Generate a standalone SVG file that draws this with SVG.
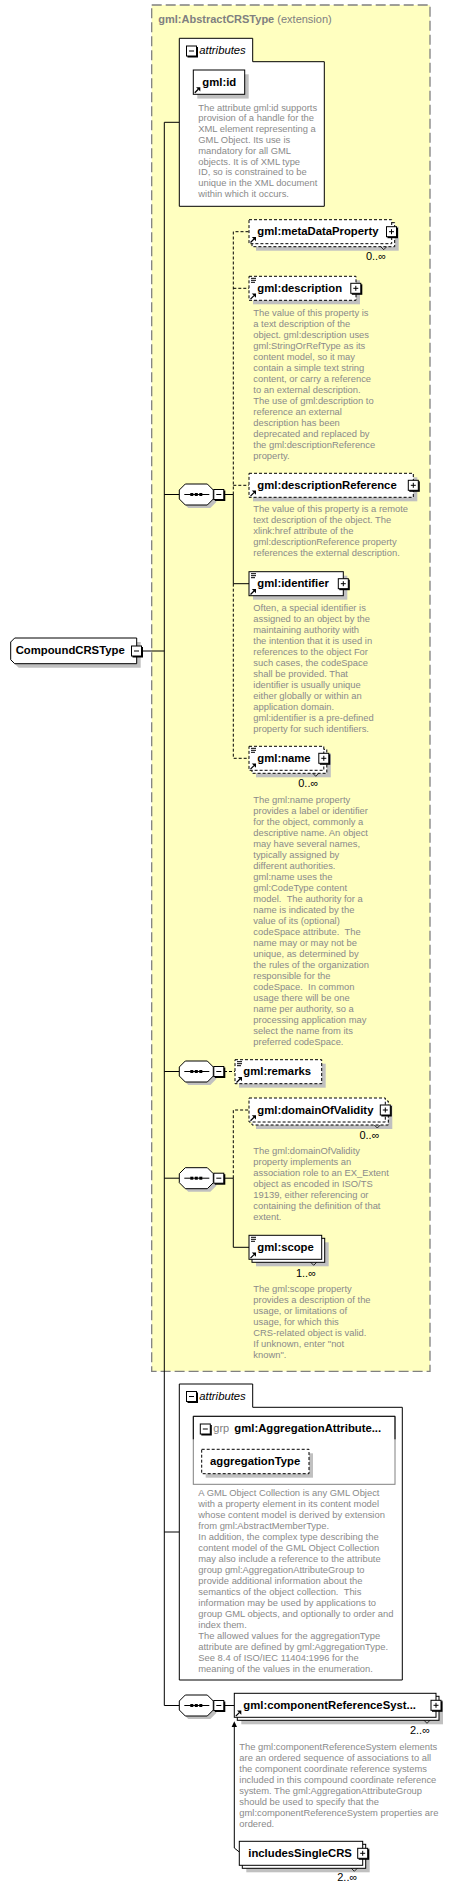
<svg xmlns="http://www.w3.org/2000/svg" width="467" height="1891" viewBox="0 0 467 1891">
<style>
.bx{fill:#fff;stroke:#000;stroke-width:1}
.op{stroke-dasharray:3,2}
.sh{fill:#c0c0c0;stroke:none}
.t{font-family:"Liberation Sans",Arial,sans-serif;font-size:11.3px;font-weight:bold;fill:#000}
.d{font-family:"Liberation Sans",Arial,sans-serif;font-size:9.4px;fill:#8a8a8a}
.oc{font-family:"Liberation Sans",Arial,sans-serif;font-size:11px;fill:#000;text-anchor:end}
.ln{stroke:#000;stroke-width:1;fill:none}
.dl{stroke:#000;stroke-width:1;fill:none;stroke-dasharray:3,2}
.at{font-family:"Liberation Sans",Arial,sans-serif;font-size:11.3px;font-style:italic;fill:#000}
.g{font-family:"Liberation Sans",Arial,sans-serif;font-size:11px;fill:#808080}
.v{stroke:#000;stroke-width:0.8;fill:none}
</style>
<defs>
<g id="plus"><rect x="-4.5" y="-4.5" width="10.5" height="10.5" fill="#000"/><rect x="-5.5" y="-5.5" width="10" height="10" fill="#fff" stroke="#000"/><path d="M-3,-0.5H2M-0.5,-3V2" stroke="#000"/></g>
<g id="minus"><rect x="-4.5" y="-4.5" width="10.5" height="10.5" fill="#000"/><rect x="-5.5" y="-5.5" width="10" height="10" fill="#fff" stroke="#000"/><path d="M-3,-0.5H2" stroke="#000"/></g>
<g id="seq"><polygon class="sh" points="9,3 31,3 37,9 37,18 31,24 9,24 3,18 3,9"/><polygon class="bx" points="6,0 28,0 34,6 34,15 28,21 6,21 0,15 0,6"/><path class="ln" d="M5,10.5H30"/><rect x="11" y="9" width="3" height="3"/><rect x="15.5" y="9" width="3" height="3"/><rect x="20" y="9" width="3" height="3"/></g>
<g id="ilist"><path d="M0,0.5H5M0,2.5H5M0,4.5H4" stroke="#000"/></g>
<g id="iref"><path d="M0.5,6.5L4,3" stroke="#000" stroke-width="1.3"/><path d="M1.8,1H6V5.2Z" fill="#000"/></g>
</defs>

<g id="abstractCRSType">
<rect x="151.7" y="5" width="278.3" height="1366.3" fill="#ffffc0" stroke="#808080" stroke-width="1.3" stroke-dasharray="10,4"/>
<text class="g" x="158.3" y="22.7"><tspan font-weight="bold">gml:AbstractCRSType</tspan> (extension)</text>
</g>

<g id="connectors">
<path class="ln" d="M164.3,122.3V1705.5M164.3,122.3H179.3M164.3,494.5H179.3M164.3,1071.5H179.3M164.3,1178.2H179.3M164.3,1532H179.3M164.3,1705.5H179.3M142.3,651H164.3"/>
<path class="ln" d="M224,494.5H233.3V583.7H249"/>
<path class="dl" d="M233.3,494.5V231.7H249M233.3,288.3H249M233.3,485.3H249M233.3,583.7V758.3H249"/>
<path class="dl" d="M224,1071.5H235"/>
<path class="ln" d="M224,1178.2H233.3V1247.3H249"/>
<path class="dl" d="M233.3,1178.2V1110H249"/>
<path class="ln" d="M224,1705.5H234.3"/>
<path class="ln" d="M234.3,1726V1848L239.3,1852"/>
<polygon points="234.3,1721.3 231.6,1727 237,1727" fill="#000"/>
</g>

<g id="CompoundCRSType">
<path class="sh" d="M18.7,642H140.7V667.7H18.7L14.7,663.7V646Z"/>
<path class="bx" d="M14.7,638H136.7V663.7H14.7L10.7,659.7V642Z"/>
<text class="t" x="15.7" y="653.7">CompoundCRSType</text>
<use href="#minus" x="137" y="651.5"/>
</g>

<g id="attributes1">
<path class="bx" d="M179.3,38.3H252.7V61.7H324.3V206.3H179.3Z"/>
<use href="#minus" x="192" y="51.5"/>
<text class="at" x="199.3" y="54">attributes</text>
</g>

<g id="gml_id">
<rect class="sh" x="197.3" y="74.3" width="51.4" height="24.3"/>
<rect class="bx" x="193.3" y="70" width="51.4" height="24.3"/>
<text class="t" x="202.3" y="86">gml:id</text>
<use href="#iref" x="194.3" y="86.3"/>
<text class="d"><tspan x="198.3" y="110.6">The attribute gml:id supports</tspan><tspan x="198.3" dy="10.8">provision of a handle for the</tspan><tspan x="198.3" dy="10.8">XML element representing a</tspan><tspan x="198.3" dy="10.8">GML Object. Its use is</tspan><tspan x="198.3" dy="10.8">mandatory for all GML</tspan><tspan x="198.3" dy="10.8">objects. It is of XML type</tspan><tspan x="198.3" dy="10.8">ID, so is constrained to be</tspan><tspan x="198.3" dy="10.8">unique in the XML document</tspan><tspan x="198.3" dy="10.8">within which it occurs.</tspan></text>
</g>

<g id="seq1">
<use href="#seq" x="179.3" y="484"/>
<use href="#minus" x="219.3" y="495"/>
</g>

<g id="gml_metaDataProperty">
<rect class="sh" x="256" y="226.7" width="142.7" height="24"/>
<rect class="bx op" x="252" y="222.7" width="142.7" height="24"/>
<rect class="bx op" x="249" y="219.7" width="142.7" height="24"/>
<path class="v" d="M380.7,246.7L383.7,249.7L386.7,246.7"/>
<text class="t" x="257.3" y="235.3">gml:metaDataProperty</text>
<use href="#iref" x="250" y="236"/>
<use href="#plus" x="392" y="232.2"/>
<text class="oc" x="386" y="259.7">0..∞</text>
</g>

<g id="gml_description">
<rect class="sh" x="253" y="280.3" width="107" height="24"/>
<rect class="bx op" x="249" y="276.3" width="107" height="24"/>
<use href="#ilist" x="251" y="277.8"/>
<text class="t" x="257.3" y="291.8">gml:description</text>
<use href="#iref" x="250" y="292.6"/>
<use href="#plus" x="356.3" y="288.8"/>
<text class="d"><tspan x="253.3" y="315.5">The value of this property is</tspan><tspan x="253.3" dy="11">a text description of the</tspan><tspan x="253.3" dy="11">object. gml:description uses</tspan><tspan x="253.3" dy="11">gml:StringOrRefType as its</tspan><tspan x="253.3" dy="11">content model, so it may</tspan><tspan x="253.3" dy="11">contain a simple text string</tspan><tspan x="253.3" dy="11">content, or carry a reference</tspan><tspan x="253.3" dy="11">to an external description.</tspan><tspan x="253.3" dy="11">The use of gml:description to</tspan><tspan x="253.3" dy="11">reference an external</tspan><tspan x="253.3" dy="11">description has been</tspan><tspan x="253.3" dy="11">deprecated and replaced by</tspan><tspan x="253.3" dy="11">the gml:descriptionReference</tspan><tspan x="253.3" dy="11">property.</tspan></text>
</g>

<g id="gml_descriptionReference">
<rect class="sh" x="253" y="477.3" width="164.3" height="24"/>
<rect class="bx op" x="249" y="473.3" width="164.3" height="24"/>
<text class="t" x="257.3" y="489">gml:descriptionReference</text>
<use href="#iref" x="250" y="489.6"/>
<use href="#plus" x="413.8" y="485.8"/>
<text class="d"><tspan x="253.3" y="511.7">The value of this property is a remote</tspan><tspan x="253.3" dy="11">text description of the object. The</tspan><tspan x="253.3" dy="11">xlink:href attribute of the</tspan><tspan x="253.3" dy="11">gml:descriptionReference property</tspan><tspan x="253.3" dy="11">references the external description.</tspan></text>
</g>

<g id="gml_identifier">
<rect class="sh" x="253" y="575.7" width="94.3" height="24"/>
<rect class="bx" x="249" y="571.7" width="94.3" height="24"/>
<use href="#ilist" x="251" y="573.2"/>
<text class="t" x="257.3" y="587.2">gml:identifier</text>
<use href="#iref" x="250" y="588"/>
<use href="#plus" x="343.8" y="584.2"/>
<text class="d"><tspan x="253.3" y="610.7">Often, a special identifier is</tspan><tspan x="253.3" dy="11">assigned to an object by the</tspan><tspan x="253.3" dy="11">maintaining authority with</tspan><tspan x="253.3" dy="11">the intention that it is used in</tspan><tspan x="253.3" dy="11">references to the object For</tspan><tspan x="253.3" dy="11">such cases, the codeSpace</tspan><tspan x="253.3" dy="11">shall be provided. That</tspan><tspan x="253.3" dy="11">identifier is usually unique</tspan><tspan x="253.3" dy="11">either globally or within an</tspan><tspan x="253.3" dy="11">application domain.</tspan><tspan x="253.3" dy="11">gml:identifier is a pre-defined</tspan><tspan x="253.3" dy="11">property for such identifiers.</tspan></text>
</g>

<g id="gml_name">
<rect class="sh" x="256" y="753.3" width="74.8" height="24"/>
<rect class="bx op" x="252" y="749.3" width="74.8" height="24"/>
<rect class="bx op" x="249" y="746.3" width="74.8" height="24"/>
<path class="v" d="M312.8,773.3L315.8,776.3L318.8,773.3"/>
<use href="#ilist" x="251" y="747.8"/>
<text class="t" x="257.3" y="761.8">gml:name</text>
<use href="#iref" x="250" y="762.6"/>
<use href="#plus" x="324.3" y="758.8"/>
<text class="oc" x="318.3" y="787">0..∞</text>
<text class="d"><tspan x="253.3" y="802.7">The gml:name property</tspan><tspan x="253.3" dy="11">provides a label or identifier</tspan><tspan x="253.3" dy="11">for the object, commonly a</tspan><tspan x="253.3" dy="11">descriptive name. An object</tspan><tspan x="253.3" dy="11">may have several names,</tspan><tspan x="253.3" dy="11">typically assigned by</tspan><tspan x="253.3" dy="11">different authorities.</tspan><tspan x="253.3" dy="11">gml:name uses the</tspan><tspan x="253.3" dy="11">gml:CodeType content</tspan><tspan x="253.3" dy="11">model. &#160;The authority for a</tspan><tspan x="253.3" dy="11">name is indicated by the</tspan><tspan x="253.3" dy="11">value of its (optional)</tspan><tspan x="253.3" dy="11">codeSpace attribute. &#160;The</tspan><tspan x="253.3" dy="11">name may or may not be</tspan><tspan x="253.3" dy="11">unique, as determined by</tspan><tspan x="253.3" dy="11">the rules of the organization</tspan><tspan x="253.3" dy="11">responsible for the</tspan><tspan x="253.3" dy="11">codeSpace. &#160;In common</tspan><tspan x="253.3" dy="11">usage there will be one</tspan><tspan x="253.3" dy="11">name per authority, so a</tspan><tspan x="253.3" dy="11">processing application may</tspan><tspan x="253.3" dy="11">select the name from its</tspan><tspan x="253.3" dy="11">preferred codeSpace.</tspan></text>
</g>

<g id="seq2">
<use href="#seq" x="179.3" y="1061"/>
<use href="#minus" x="219.3" y="1072"/>
</g>

<g id="gml_remarks">
<rect class="sh" x="239" y="1063.7" width="86.7" height="24"/>
<rect class="bx op" x="235" y="1059.7" width="86.7" height="24"/>
<use href="#ilist" x="237" y="1061.2"/>
<text class="t" x="243.3" y="1075.2">gml:remarks</text>
<use href="#iref" x="236" y="1076"/>
</g>

<g id="seq3">
<use href="#seq" x="179.3" y="1167.7"/>
<use href="#minus" x="219.3" y="1178.7"/>
</g>

<g id="gml_domainOfValidity">
<rect class="sh" x="256" y="1105" width="136.3" height="24"/>
<rect class="bx op" x="252" y="1101" width="136.3" height="24"/>
<rect class="bx op" x="249" y="1098" width="136.3" height="24"/>
<path class="v" d="M374.3,1125L377.3,1128L380.3,1125"/>
<text class="t" x="257.3" y="1113.7">gml:domainOfValidity</text>
<use href="#iref" x="250" y="1114.3"/>
<use href="#plus" x="385.8" y="1110.5"/>
<text class="oc" x="379.5" y="1139.3">0..∞</text>
<text class="d"><tspan x="253.3" y="1154.3">The gml:domainOfValidity</tspan><tspan x="253.3" dy="11">property implements an</tspan><tspan x="253.3" dy="11">association role to an EX_Extent</tspan><tspan x="253.3" dy="11">object as encoded in ISO/TS</tspan><tspan x="253.3" dy="11">19139, either referencing or</tspan><tspan x="253.3" dy="11">containing the definition of that</tspan><tspan x="253.3" dy="11">extent.</tspan></text>
</g>

<g id="gml_scope">
<rect class="sh" x="256" y="1242.3" width="72.7" height="24"/>
<rect class="bx" x="252" y="1238.3" width="72.7" height="24"/>
<rect class="bx" x="249" y="1235.3" width="72.7" height="24"/>
<path class="v" d="M310.7,1262.3L313.7,1265.3L316.7,1262.3"/>
<use href="#ilist" x="251" y="1236.8"/>
<text class="t" x="257.3" y="1250.8">gml:scope</text>
<use href="#iref" x="250" y="1251.6"/>
<text class="oc" x="316" y="1276.7">1..∞</text>
<text class="d"><tspan x="253.3" y="1291.7">The gml:scope property</tspan><tspan x="253.3" dy="11">provides a description of the</tspan><tspan x="253.3" dy="11">usage, or limitations of</tspan><tspan x="253.3" dy="11">usage, for which this</tspan><tspan x="253.3" dy="11">CRS-related object is valid.</tspan><tspan x="253.3" dy="11">If unknown, enter "not</tspan><tspan x="253.3" dy="11">known".</tspan></text>
</g>

<g id="attributes2">
<path class="bx" d="M179.3,1384H252.7V1407.3H402.3V1680H179.3Z"/>
<use href="#minus" x="192" y="1397"/>
<text class="at" x="199.3" y="1399.5">attributes</text>
</g>

<g id="gml_AggregationAttributeGroup">
<rect x="193.3" y="1416.3" width="201.7" height="68" fill="#fff" stroke="#808080"/>
<path class="ln" d="M193.3,1439.3V1416.3H395V1439.3"/>
<use href="#minus" x="205.8" y="1429.5"/>
<text class="g" x="213.3" y="1432">grp</text>
<text class="t" x="234.3" y="1432">gml:AggregationAttribute...</text>
<text class="d"><tspan x="198.3" y="1496">A GML Object Collection is any GML Object</tspan><tspan x="198.3" dy="11">with a property element in its content model</tspan><tspan x="198.3" dy="11">whose content model is derived by extension</tspan><tspan x="198.3" dy="11">from gml:AbstractMemberType.</tspan><tspan x="198.3" dy="11">In addition, the complex type describing the</tspan><tspan x="198.3" dy="11">content model of the GML Object Collection</tspan><tspan x="198.3" dy="11">may also include a reference to the attribute</tspan><tspan x="198.3" dy="11">group gml:AggregationAttributeGroup to</tspan><tspan x="198.3" dy="11">provide additional information about the</tspan><tspan x="198.3" dy="11">semantics of the object collection. &#160;This</tspan><tspan x="198.3" dy="11">information may be used by applications to</tspan><tspan x="198.3" dy="11">group GML objects, and optionally to order and</tspan><tspan x="198.3" dy="11">index them.</tspan><tspan x="198.3" dy="11">The allowed values for the aggregationType</tspan><tspan x="198.3" dy="11">attribute are defined by gml:AggregationType.</tspan><tspan x="198.3" dy="11">See 8.4 of ISO/IEC 11404:1996 for the</tspan><tspan x="198.3" dy="11">meaning of the values in the enumeration.</tspan></text>
</g>

<g id="aggregationType">
<rect class="sh" x="205.7" y="1453.3" width="107.3" height="24.4"/>
<rect class="bx op" x="201.7" y="1449.3" width="107.3" height="24.4"/>
<text class="t" x="210" y="1465">aggregationType</text>
</g>

<g id="seq4">
<use href="#seq" x="179.3" y="1695"/>
<use href="#minus" x="219.3" y="1706"/>
</g>

<g id="gml_componentReferenceSystem">
<rect class="sh" x="241.3" y="1700.3" width="201.7" height="24"/>
<rect class="bx" x="237.3" y="1696.3" width="201.7" height="24"/>
<rect class="bx" x="234.3" y="1693.3" width="201.7" height="24"/>
<path class="v" d="M424,1720.3L427,1723.3L430,1720.3"/>
<text class="t" x="243.3" y="1709.3">gml:componentReferenceSyst...</text>
<use href="#iref" x="235.3" y="1709.6"/>
<use href="#plus" x="436.5" y="1705.8"/>
<text class="oc" x="430" y="1734.3">2..∞</text>
<text class="d"><tspan x="239.3" y="1749.7">The gml:componentReferenceSystem elements</tspan><tspan x="239.3" dy="11">are an ordered sequence of associations to all</tspan><tspan x="239.3" dy="11">the component coordinate reference systems</tspan><tspan x="239.3" dy="11">included in this compound coordinate reference</tspan><tspan x="239.3" dy="11">system. The gml:AggregationAttributeGroup</tspan><tspan x="239.3" dy="11">should be used to specify that the</tspan><tspan x="239.3" dy="11">gml:componentReferenceSystem properties are</tspan><tspan x="239.3" dy="11">ordered.</tspan></text>
</g>

<g id="includesSingleCRS">
<rect class="sh" x="246.3" y="1848.3" width="123.4" height="24"/>
<rect class="bx" x="242.3" y="1844.3" width="123.4" height="24"/>
<rect class="bx" x="239.3" y="1841.3" width="123.4" height="24"/>
<path class="v" d="M351.3,1868.3L354.3,1871.3L357.3,1868.3"/>
<text class="t" x="248.3" y="1857">includesSingleCRS</text>
<use href="#plus" x="363.2" y="1853.8"/>
<text class="oc" x="357.3" y="1881.3">2..∞</text>
</g>
</svg>
